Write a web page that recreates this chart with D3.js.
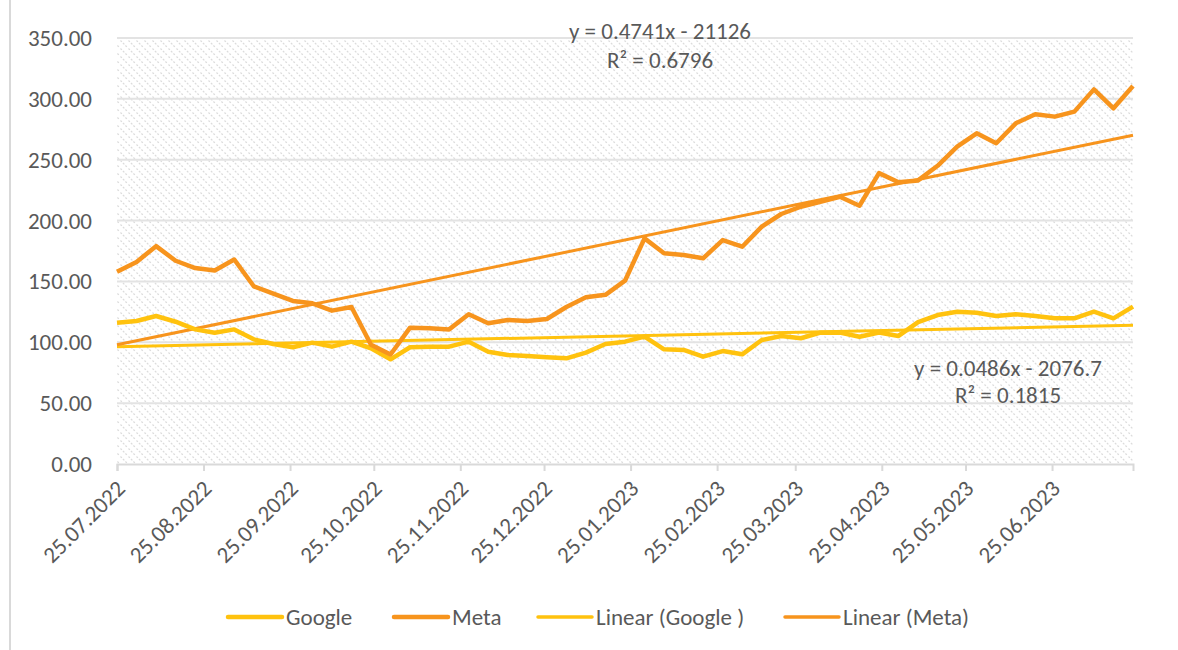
<!DOCTYPE html>
<html><head><meta charset="utf-8">
<script src="https://cdn.jsdelivr.net/npm/d3@7"></script>
<style>
html,body{margin:0;padding:0;background:#fff;}
text{font-family:Carlito,Lato,"Open Sans",sans-serif;fill:#595959;}
</style></head><body>
<svg id="chart" width="1178" height="650"></svg>
<script>
const dates = ["25.07.2022","01.08.2022","08.08.2022","15.08.2022","22.08.2022","29.08.2022","05.09.2022","12.09.2022","19.09.2022","26.09.2022","03.10.2022","10.10.2022","17.10.2022","24.10.2022","31.10.2022","07.11.2022","14.11.2022","21.11.2022","28.11.2022","05.12.2022","12.12.2022","19.12.2022","26.12.2022","02.01.2023","09.01.2023","16.01.2023","23.01.2023","30.01.2023","06.02.2023","13.02.2023","20.02.2023","27.02.2023","06.03.2023","13.03.2023","20.03.2023","27.03.2023","03.04.2023","10.04.2023","17.04.2023","24.04.2023","01.05.2023","08.05.2023","15.05.2023","22.05.2023","29.05.2023","05.06.2023","12.06.2023","19.06.2023","26.06.2023","03.07.2023","10.07.2023","17.07.2023","24.07.2023"];
const google = [116.1,117.5,121.6,116.9,110.6,107.9,110.6,102.4,98.6,95.9,99.7,96.4,100.5,95.1,86.0,95.9,96.4,96.4,100.5,92.3,89.6,88.7,87.7,86.8,91.5,98.6,100.5,104.6,94.2,93.7,88.2,92.8,90.1,101.9,105.2,103.3,107.9,107.9,104.6,108.0,105.2,116.5,122.4,125.1,124.3,121.6,123.0,121.6,119.7,119.7,125.1,119.7,129.3];
const meta = [158.0,166.0,179.0,167.0,161.0,159.0,168.0,146.0,140.0,134.0,132.0,126.0,129.0,98.0,90.0,112.0,111.5,110.6,123.0,115.6,118.3,117.5,119.1,129.0,137.0,139.0,150.6,185.4,173.1,171.7,169.0,184.0,178.5,195.0,205.4,211.4,215.5,219.6,212.2,239.0,231.5,233.0,245.0,260.7,271.7,263.5,279.9,287.3,285.4,289.5,307.8,292.2,310.5];
const xTickLabels = ["25.07.2022","25.08.2022","25.09.2022","25.10.2022","25.11.2022","25.12.2022","25.01.2023","25.02.2023","25.03.2023","25.04.2023","25.05.2023","25.06.2023"];
const yTicks = [0,50,100,150,200,250,300,350];
const seriesNames = ["Google","Meta","Linear (Google )","Linear (Meta)"];
const metaEquation = ["y = 0.4741x - 21126","R² = 0.6796"];
const googleEquation = ["y = 0.0486x - 2076.7","R² = 0.1815"];

const parse = d3.timeParse("%d.%m.%Y");
const fmtY = d3.format(".2f");
const svg = d3.select("#chart");
const pL = 117, pR = 1133, pT = 38, pB = 464;
const colGoogle = "#FFC20E", colMeta = "#F7941D";
const FS = 23;

const xs = dates.map(parse);
const x = d3.scaleTime().domain([xs[0], xs[xs.length-1]]).range([pL, pR]);
const y = d3.scaleLinear().domain([0, 350]).range([pB, pT]);

// chart border (left edge visible)
svg.append("line").attr("x1",10).attr("x2",10).attr("y1",0).attr("y2",650)
  .attr("stroke","#d9d9d9").attr("stroke-width",2);

// hatch pattern
const defs = svg.append("defs");
const pat = defs.append("pattern").attr("id","hatch").attr("patternUnits","userSpaceOnUse")
  .attr("width",8).attr("height",8);
pat.append("path").attr("d","M-2,-2 L10,10 M-2,6 L2,10 M6,-2 L10,2")
  .attr("stroke","#dcdcdc").attr("stroke-width",1.3).attr("stroke-dasharray","2,1.5");
svg.append("rect").attr("x",pL).attr("y",pT).attr("width",pR-pL).attr("height",pB-pT)
  .attr("fill","url(#hatch)");

// gridlines
svg.append("g").selectAll("line").data(yTicks.filter(d=>d>0)).join("line")
  .attr("x1",pL).attr("x2",pR).attr("y1",d=>y(d)).attr("y2",d=>y(d))
  .attr("stroke","#e3e3e3").attr("stroke-width",2);

// y axis labels
svg.append("g").selectAll("text").data(yTicks).join("text")
  .attr("x",92).attr("y",d=>y(d)).attr("dy","0.35em").attr("text-anchor","end")
  .attr("font-size",FS).text(d=>fmtY(d));

// x axis
const xAxis = d3.axisBottom(x).tickValues(xTickLabels.map(parse)).tickSize(7).tickFormat(d3.timeFormat("%d.%m.%Y"));
const gx = svg.append("g").attr("transform",`translate(0,${pB})`).call(xAxis);
gx.select(".domain").attr("stroke","#d9d9d9").attr("stroke-width",2);
gx.selectAll(".tick line").attr("stroke","#d9d9d9").attr("stroke-width",2);
gx.selectAll(".tick text").attr("font-size",FS).attr("fill","#595959")
  .attr("font-family","Carlito,Lato,sans-serif")
  .attr("text-anchor","end").attr("y",0).attr("dy",0)
  .attr("transform","translate(9,26) rotate(-45)");

// regression
function regress(vals){
  const t = xs.map(d=>d.getTime()/86400000);
  const n = t.length, mt = d3.mean(t), mv = d3.mean(vals);
  let sxy=0,sxx=0; for(let i=0;i<n;i++){sxy+=(t[i]-mt)*(vals[i]-mv);sxx+=(t[i]-mt)**2;}
  const b = sxy/sxx, a = mv-b*mt;
  return [xs[0], xs[n-1]].map(d=>({d, v:a+b*d.getTime()/86400000}));
}
const line = d3.line().x(p=>x(p.d)).y(p=>y(p.v));
const lineData = vals => vals.map((v,i)=>({d:xs[i], v}));

// trend lines
svg.append("path").datum(regress(google)).attr("d",line).attr("fill","none")
  .attr("stroke",colGoogle).attr("stroke-width",3);
svg.append("path").datum(regress(meta)).attr("d",line).attr("fill","none")
  .attr("stroke",colMeta).attr("stroke-width",3);

// data lines
svg.append("path").datum(lineData(google)).attr("d",line).attr("fill","none")
  .attr("stroke",colGoogle).attr("stroke-width",4.5).attr("stroke-linejoin","round");
svg.append("path").datum(lineData(meta)).attr("d",line).attr("fill","none")
  .attr("stroke",colMeta).attr("stroke-width",4.5).attr("stroke-linejoin","round");

// equations
svg.append("g").selectAll("text").data(metaEquation).join("text")
  .attr("x",660).attr("y",(d,i)=>39+i*29).attr("text-anchor","middle").attr("font-size",FS).text(d=>d);
svg.append("g").selectAll("text").data(googleEquation).join("text")
  .attr("x",1008).attr("y",(d,i)=>376+i*27).attr("text-anchor","middle").attr("font-size",FS).text(d=>d);

// legend
const legX = [228,394,538,785];
const legCols = [colGoogle,colMeta,colGoogle,colMeta];
const legW = [4.5,4.5,3.5,3.5];
const leg = svg.append("g").selectAll("g").data(seriesNames).join("g")
  .attr("transform",(d,i)=>`translate(${legX[i]},617)`);
leg.append("line").attr("x1",0).attr("x2",54).attr("y1",0).attr("y2",0)
  .attr("stroke",(d,i)=>legCols[i]).attr("stroke-width",(d,i)=>legW[i]).attr("stroke-linecap","round");
leg.append("text").attr("x",58).attr("dy","0.35em").attr("font-size",FS).text(d=>d);
</script>
</body></html>
